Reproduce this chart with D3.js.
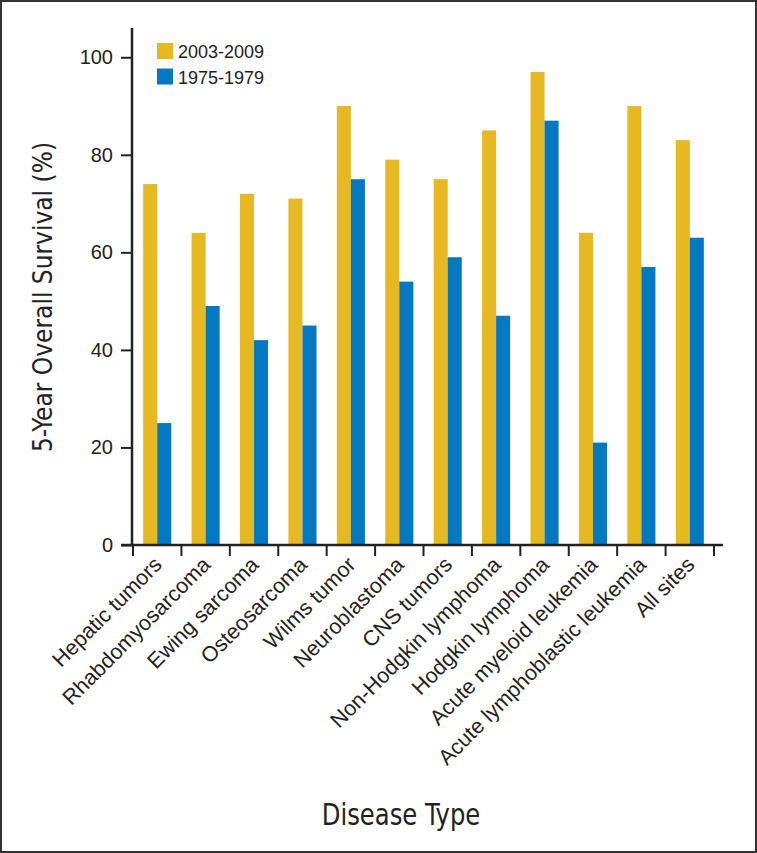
<!DOCTYPE html>
<html>
<head>
<meta charset="utf-8">
<script src="https://cdn.jsdelivr.net/npm/d3@7"></script>
<style>
  html, body { margin: 0; padding: 0; background: #fff; }
  svg { display: block; }
</style>
</head>
<body>
<svg id="chart" width="757" height="853"></svg>
<script>
const categories = ["Hepatic tumors", "Rhabdomyosarcoma", "Ewing sarcoma", "Osteosarcoma",
  "Wilms tumor", "Neuroblastoma", "CNS tumors", "Non-Hodgkin lymphoma", "Hodgkin lymphoma",
  "Acute myeloid leukemia", "Acute lymphoblastic leukemia", "All sites"];
const seriesNames = ["2003-2009", "1975-1979"];
const values2003 = [74, 64, 72, 71, 90, 79, 75, 85, 97, 64, 90, 83];
const values1975 = [25, 49, 42, 45, 75, 54, 59, 47, 87, 21, 57, 63];
const yTicks = [0, 20, 40, 60, 80, 100];
const colors = ["#E6B821", "#0479C1"];

const svg = d3.select("#chart");
const W = 757, H = 853;

// frame
svg.append("rect").attr("x", 1).attr("y", 1).attr("width", W - 2).attr("height", H - 2)
  .attr("fill", "#fff").attr("stroke", "#333").attr("stroke-width", 2);

const x0 = 133, x1 = 714, yBase = 545, yTop = 28;
const x = d3.scaleBand().domain(categories).range([x0, x1]).padding(0);
const xs = d3.scaleBand().domain(seriesNames).range([x.bandwidth() * 0.21, x.bandwidth() * 0.79]).padding(0);
const y = d3.scaleLinear().domain([0, 106]).range([yBase, yTop]);

const seriesData = [values2003, values1975];

// bars
const g = svg.append("g");
categories.forEach((c, i) => {
  seriesNames.forEach((s, j) => {
    const v = seriesData[j][i];
    g.append("rect")
      .attr("x", x(c) + xs(s))
      .attr("width", xs.bandwidth())
      .attr("y", y(v))
      .attr("height", y(0) - y(v))
      .attr("fill", colors[j]);
  });
});

const axisColor = "#222";
const tickFont = "'Liberation Sans', Arial, Helvetica, sans-serif";

// y axis
const yAxis = svg.append("g").attr("transform", `translate(${x0 - 1},0)`)
  .call(d3.axisLeft(y).tickValues(yTicks).tickSize(11).tickPadding(8).tickFormat(d3.format("d")));
yAxis.select(".domain").attr("d", `M0,${yBase}V${yTop}`).attr("stroke", axisColor).attr("stroke-width", 2.5);
yAxis.selectAll(".tick line").attr("stroke", axisColor).attr("stroke-width", 2);
yAxis.selectAll(".tick text").attr("font-family", tickFont).attr("font-size", 20).attr("fill", "#222");

// x axis
const xAxis = svg.append("g").attr("transform", `translate(0,${yBase})`)
  .call(d3.axisBottom(x).tickSize(0).tickPadding(0));
xAxis.select(".domain").attr("d", `M${x0 - 12},0H${x1 + 9}`).attr("stroke", axisColor).attr("stroke-width", 2.5);
xAxis.selectAll(".tick text")
  .attr("font-family", tickFont).attr("font-size", 21.5).attr("fill", "#222")
  .attr("text-anchor", "end")
  .attr("y", 0)
  .attr("dy", "0")
  .attr("transform", "translate(6,21) rotate(-45)");
// boundary ticks
const bounds = categories.map(c => x(c)).concat([x(categories[categories.length - 1]) + x.bandwidth()]);
xAxis.selectAll("line.bt").data(bounds).enter().append("line")
  .attr("class", "bt").attr("x1", d => d).attr("x2", d => d).attr("y1", 0).attr("y2", 11)
  .attr("stroke", axisColor).attr("stroke-width", 2);

// axis titles
const condFont = "'DejaVu Sans Condensed', 'Liberation Sans Narrow', sans-serif";
svg.append("text").attr("transform", "translate(52,297) rotate(-90)")
  .attr("text-anchor", "middle").attr("font-family", condFont).attr("font-size", 26)
  .attr("fill", "#222").text("5-Year Overall Survival (%)");
svg.append("text").attr("transform", "translate(401,825) scale(0.9,1)")
  .attr("text-anchor", "middle").attr("font-family", condFont).attr("font-size", 30)
  .attr("fill", "#222").text("Disease Type");

// legend
const leg = svg.append("g").attr("transform", "translate(157,43)");
seriesNames.forEach((s, j) => {
  leg.append("rect").attr("x", 0).attr("y", j * 25.5).attr("width", 16).attr("height", 16).attr("fill", colors[j]);
  leg.append("text").attr("x", 21).attr("y", j * 25.5 + 15)
    .attr("font-family", tickFont).attr("font-size", 18).attr("fill", "#222").text(s);
});
</script>
</body>
</html>
